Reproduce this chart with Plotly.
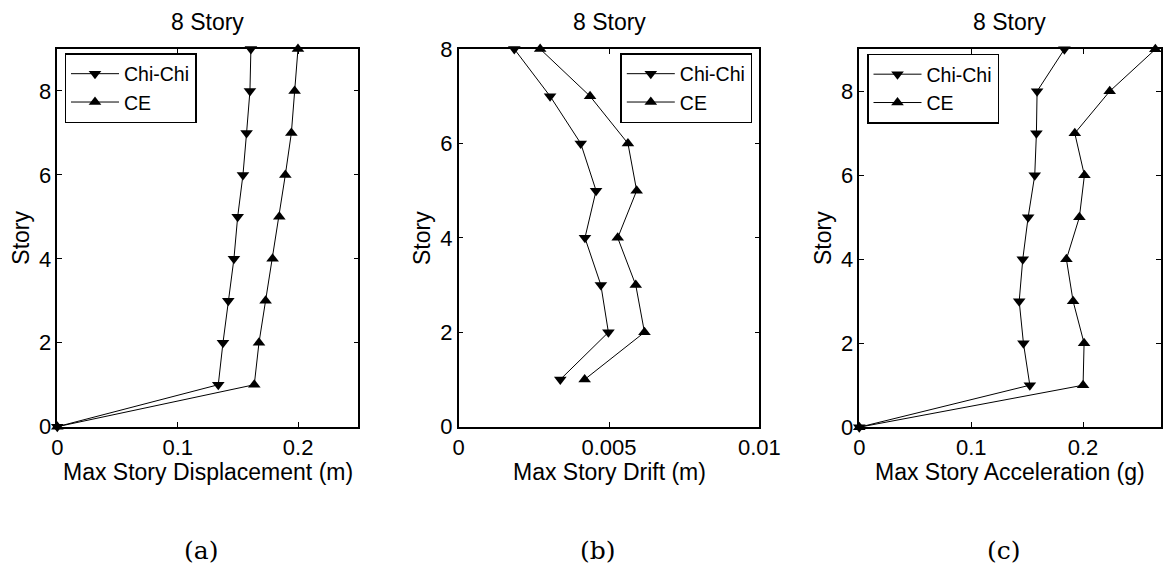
import plotly.graph_objects as go

# ---------------- data ----------------
story_full = [0, 1, 2, 3, 4, 5, 6, 7, 8, 9]
story_drift = [1, 2, 3, 4, 5, 6, 7, 8]

disp_chichi = [0, 0.1337, 0.1376, 0.1420, 0.1467, 0.1498, 0.1542, 0.1572, 0.1600, 0.1608]
disp_ce = [0, 0.1636, 0.1675, 0.1730, 0.1788, 0.1844, 0.1894, 0.1944, 0.1971, 0.1999]

drift_chichi = [0.00338, 0.00498, 0.00473, 0.00420, 0.00457, 0.00406, 0.00304, 0.00185]
drift_ce = [0.00419, 0.00618, 0.00589, 0.00529, 0.00592, 0.00563, 0.00437, 0.00271]

acc_chichi = [0, 0.1524, 0.1467, 0.1429, 0.1461, 0.1509, 0.1568, 0.1583, 0.1589, 0.1833]
acc_ce = [0, 0.2000, 0.2009, 0.1911, 0.1851, 0.1967, 0.2012, 0.1926, 0.2238, 0.2646]

panel_titles = ["8 Story", "8 Story", "8 Story"]
x_labels = ["Max Story Displacement (m)", "Max Story Drift (m)", "Max Story Acceleration (g)"]
y_label = "Story"
captions = ["(a)", "(b)", "(c)"]
series_names = ["Chi-Chi", "CE"]

# ---------------- layout geometry ----------------
W, H = 1163, 569
FONT = "Liberation Sans, Arial, Helvetica, sans-serif"

def px_x(p):
    return p / W

def px_y(p):
    return 1 - p / H

panels = [
    dict(x0=57.3, x1=358.3, y0=49, y1=426.7, xr=[0, 0.25], yr=[0, 9],
         xt=[0, 0.1, 0.2], xtt=["0", "0.1", "0.2"]),
    dict(x0=458.7, x1=759.3, y0=49, y1=426.7, xr=[0, 0.01], yr=[0, 8],
         xt=[0, 0.005, 0.01], xtt=["0", "0.005", "0.01"]),
    dict(x0=859.3, x1=1160.5, y0=49.3, y1=427.2, xr=[0, 0.2692], yr=[0, 9],
         xt=[0, 0.1, 0.2], xtt=["0", "0.1", "0.2"]),
]
caption_x = [201, 598, 1004]

fig = go.Figure()

data_sets = [
    (disp_chichi, disp_ce, story_full),
    (drift_chichi, drift_ce, story_drift),
    (acc_chichi, acc_ce, story_full),
]
legend_ids = ["legend", "legend2", "legend3"]

for i, (cc, ce, st) in enumerate(data_sets):
    xa = "x" if i == 0 else f"x{i+1}"
    ya = "y" if i == 0 else f"y{i+1}"
    fig.add_trace(go.Scatter(
        x=cc, y=st, mode="lines+markers", name=series_names[0],
        xaxis=xa, yaxis=ya, legend=legend_ids[i],
        line=dict(color="black", width=1),
        marker=dict(symbol="triangle-down", size=11, color="black"),
        cliponaxis=False,
    ))
    fig.add_trace(go.Scatter(
        x=ce, y=st, mode="lines+markers", name=series_names[1],
        xaxis=xa, yaxis=ya, legend=legend_ids[i],
        line=dict(color="black", width=1),
        marker=dict(symbol="triangle-up", size=11, color="black"),
        cliponaxis=False,
    ))

layout = dict(
    width=W, height=H,
    margin=dict(l=0, r=0, t=0, b=0, pad=0, autoexpand=False),
    paper_bgcolor="white", plot_bgcolor="white",
    font=dict(family=FONT, color="black", size=23),
    showlegend=True,
)

axis_common = dict(
    showline=True, linecolor="black", linewidth=1.5, mirror="ticks",
    ticks="inside", ticklen=5, tickwidth=1, tickcolor="black",
    showgrid=False, zeroline=False, automargin=False,
    tickfont=dict(family=FONT, size=22, color="black"),
)

annotations = []
for i, p in enumerate(panels):
    xk = "xaxis" if i == 0 else f"xaxis{i+1}"
    yk = "yaxis" if i == 0 else f"yaxis{i+1}"
    ya = "y" if i == 0 else f"y{i+1}"
    xa = "x" if i == 0 else f"x{i+1}"
    layout[xk] = dict(axis_common, domain=[px_x(p["x0"]), px_x(p["x1"])],
                      range=p["xr"], tickvals=p["xt"], ticktext=p["xtt"],
                      anchor=ya, ticklabelstandoff=0)
    layout[yk] = dict(axis_common, domain=[px_y(p["y1"]), px_y(p["y0"])],
                      range=p["yr"], tickvals=[0, 2, 4, 6, 8],
                      anchor=xa, ticklabelstandoff=0)
    cx = (p["x0"] + p["x1"]) / 2
    cy = (p["y0"] + p["y1"]) / 2
    annotations.append(dict(text=panel_titles[i], x=px_x(cx), y=px_y(22.5),
                            xref="paper", yref="paper", showarrow=False,
                            xanchor="center", yanchor="middle",
                            font=dict(family=FONT, size=23)))
    annotations.append(dict(text=x_labels[i], x=px_x(cx), y=px_y(471.5),
                            xref="paper", yref="paper", showarrow=False,
                            xanchor="center", yanchor="middle",
                            font=dict(family=FONT, size=23)))
    annotations.append(dict(text=y_label, x=px_x(p["x0"] - 36.5), y=px_y(cy),
                            xref="paper", yref="paper", showarrow=False,
                            xanchor="center", yanchor="middle", textangle=-90,
                            font=dict(family=FONT, size=23)))
    annotations.append(dict(text=captions[i], x=px_x(caption_x[i]), y=px_y(550),
                            xref="paper", yref="paper", showarrow=False,
                            xanchor="center", yanchor="middle",
                            font=dict(family="DejaVu Serif, serif", size=25)))

layout["annotations"] = annotations

legend_common = dict(
    bgcolor="white", bordercolor="black", borderwidth=1.5,
    font=dict(family=FONT, size=19.5, color="black"),
    itemwidth=48, tracegroupgap=0,
    xanchor="left", yanchor="top",
)
layout["legend"] = dict(legend_common, x=px_x(64.5), y=px_y(53))
layout["legend2"] = dict(legend_common, x=px_x(752.3), xanchor="right", y=px_y(53))
layout["legend3"] = dict(legend_common, x=px_x(867), y=px_y(53.5))

fig.update_layout(**layout)
fig.write_html(
    "out.html",
    config={"displayModeBar": False},
    post_script="document.body.style.margin='0';document.body.style.overflow='hidden';",
)
